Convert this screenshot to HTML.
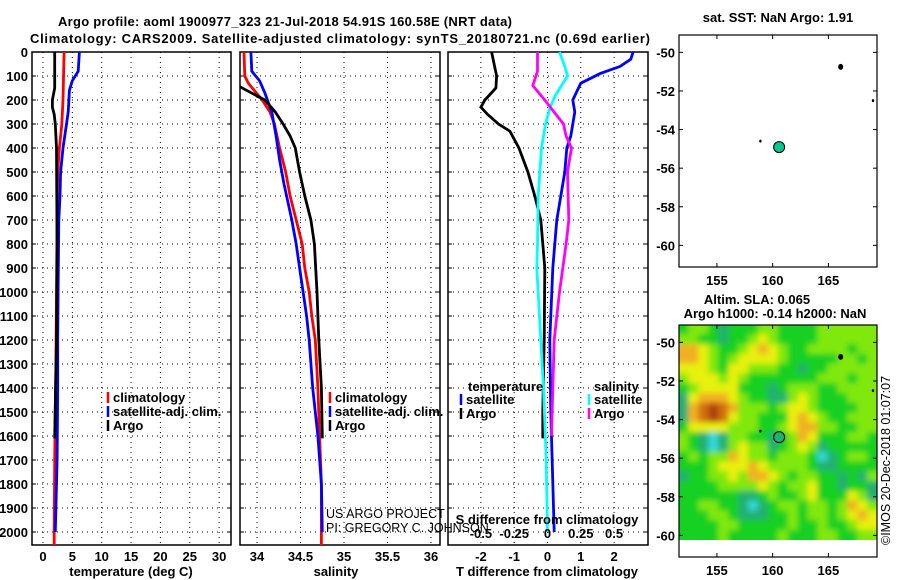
<!DOCTYPE html>
<html><head><meta charset="utf-8"><style>
body{margin:0;background:#fff}
svg{display:block}
text{font-family:"Liberation Sans",sans-serif}
.b{font-weight:bold;font-size:13px}
</style></head><body>
<svg id="s" width="900" height="580" viewBox="0 0 900 580" xmlns="http://www.w3.org/2000/svg">
<defs>
<filter id="blur" x="-10%" y="-10%" width="120%" height="120%"><feGaussianBlur stdDeviation="2.8"/></filter>
<clipPath id="mapclip"><rect x="679" y="325" width="198" height="215"/></clipPath>
</defs>
<text class="b" x="285" y="26" text-anchor="middle" font-size="14" textLength="454">Argo profile: aoml 1900977_323 21-Jul-2018 54.91S 160.58E (NRT data)</text>
<text class="b" x="340" y="43" text-anchor="middle" font-size="14" textLength="620">Climatology: CARS2009. Satellite-adjusted climatology: synTS_20180721.nc (0.69d earlier)</text>
<g id="g"></g>
</svg>
<script>
// ---- data ----
const depthTicks=[0,100,200,300,400,500,600,700,800,900,1000,1100,1200,1300,1400,1500,1600,1700,1800,1900,2000];
const tTicks=[0,5,10,15,20,25,30];
const sTicks=[34,34.5,35,35.5,36];
const dTTicks=[-2,-1,0,1,2];
const dSTicks=[-0.5,-0.25,0,0.25,0.5];
const dSLabels=["-0.5","-0.25","0","0.25","0.5"];
// temperature panel
const tArgoDepth=[0,150,200,230,260,300,400,800,1200,1610];
const tArgo=[2.0,2.0,1.6,1.6,1.9,2.1,2.3,2.4,2.3,2.0];
const tClimDepth=[0,200,300,400,500,700,1000,1300,1700,2000,2054];
const tClim=[3.6,3.4,3.2,2.8,2.5,2.4,2.3,2.2,2.0,1.9,1.9];
const tSatDepth=[0,80,120,160,250,300,400,500,600,700,900,1200,1400,1700,2000];
const tSat=[6.2,6.0,5.0,4.5,4.3,4.0,3.4,3.0,2.9,2.7,2.6,2.5,2.5,2.4,2.1];
// salinity panel
const sArgoDepth=[145,200,250,300,350,400,500,600,700,800,1000,1200,1400,1610];
const sArgo=[33.78,34.09,34.21,34.30,34.38,34.44,34.49,34.55,34.62,34.66,34.69,34.71,34.74,34.75];
const sClimDepth=[0,100,130,200,250,300,400,500,600,700,800,900,1000,1100,1200,1400,1600,1800,2054];
const sClim=[33.85,33.86,33.90,34.06,34.15,34.20,34.26,34.33,34.38,34.45,34.52,34.55,34.60,34.63,34.67,34.70,34.72,34.74,34.74];
const sSatDepth=[0,80,120,170,250,350,450,550,700,800,900,1000,1100,1200,1400,1600,1800,2000];
const sSat=[33.93,33.94,34.03,34.09,34.17,34.22,34.26,34.31,34.40,34.45,34.49,34.53,34.57,34.60,34.64,34.70,34.74,34.75];
// difference panel
const dTArgoDepth=[0,100,150,200,230,260,300,330,400,500,600,700,900,1200,1500,1610];
const dTArgo=[-1.68,-1.53,-1.55,-1.88,-2.0,-1.8,-1.47,-1.13,-0.86,-0.59,-0.38,-0.2,-0.08,-0.1,-0.14,-0.14];
const dTSatDepth=[0,30,60,90,130,200,250,350,400,500,600,700,900,1200,1500,2000];
const dTSat=[2.57,2.5,2.18,1.58,1.0,0.76,0.82,0.7,0.58,0.52,0.4,0.28,0.16,0.07,0.1,0.2];
const dSSatDepth=[0,60,100,180,230,300,400,600,800,900,1100,1400,1700,2000];
const dSSat=[0.09,0.13,0.15,0.06,0.02,-0.015,-0.045,-0.07,-0.075,-0.08,-0.06,-0.03,-0.01,0.0];
const dSArgoDepth=[0,80,140,200,240,300,350,400,500,700,800,1000,1200,1400,1600];
const dSArgo=[-0.075,-0.075,-0.11,-0.02,0.035,0.12,0.14,0.18,0.15,0.16,0.14,0.09,0.05,0.04,0.03];
// maps
const lonTicks=[155,160,165];
const latTicks=[-50,-52,-54,-56,-58,-60];
const argoLon=160.58, argoLat=-54.91;
const islandLon=[166.1,169.0,158.9];
const islandLat=[-50.75,-52.5,-54.6];
const slaRows=[
"23321222332222333333","33221223432222333333","55432234543223333233","55432344443222223323",
"44432443332212233333","34443432222222333233","23444422212333223333","14555432211343222333",
"15676533323443222233","15676433222454322333","24444333223455332233","32101332212354222332",
"32101343312343122222","23233543323332012332","22234445433332112222","12233435543233221213",
"22223333432334221221","22222211232234222431","22332210123323323543","22233211122323323454",
"22223322222322322344","22223222223222332233"];
const slaColors=["#30d8d8","#20b070","#18d020","#80e810","#e8f010","#f0b020","#d07010","#b04010"];

const NS="http://www.w3.org/2000/svg";
const G=document.getElementById('g');
function el(tag,attrs,parent){const e=document.createElementNS(NS,tag);for(const k in attrs)e.setAttribute(k,attrs[k]);(parent||G).appendChild(e);return e;}
function txt(x,y,s,attrs,parent){const e=el('text',Object.assign({x:x,y:y},attrs||{}),parent);e.textContent=s;return e;}

const yD=d=>52+d*0.24;
const PY0=52,PY1=545;
const xT=v=>43+v*5.87;
const xS=v=>257+(v-34)*87;
const xdT=v=>547.5+v*33.3;
const xdS=v=>547.5+v*133.2;

function panel(x0,x1,name,gridX){
  const g=el('g',{});
  
  
  depthTicks.forEach(d=>{const l=el('line',{x1:x0,x2:x1,y1:yD(d),y2:yD(d),stroke:'#000','stroke-width':1,'stroke-dasharray':'1,4'},g);
    });
  gridX.forEach(x=>{const l=el('line',{x1:x,x2:x,y1:PY0,y2:PY1,stroke:'#000','stroke-width':1,'stroke-dasharray':'1,4'},g);
    });
  const r=el('rect',{x:x0,y:PY0,width:x1-x0,height:PY1-PY0,fill:'none',stroke:'#000','stroke-width':1.5},g);
  
  depthTicks.forEach(d=>{el('line',{x1:x0,x2:x0+4,y1:yD(d),y2:yD(d),stroke:'#000'},g);el('line',{x1:x1-4,x2:x1,y1:yD(d),y2:yD(d),stroke:'#000'},g);});
  return g;
}
function line(xs,ds,xf,color,name,clipx0){
  const pts=ds.map((d,i)=>Math.max(clipx0||0,xf(xs[i])).toFixed(1)+','+yD(d).toFixed(1)).join(' ');
  const p=el('polyline',{points:pts,fill:'none',stroke:color,'stroke-width':2.8,'stroke-linejoin':'miter'});
  
  
}
function legend(x,y,color,label,name){
  const g=el('g',{});
  
  
  el('line',{x1:x,x2:x,y1:y-10,y2:y+1,stroke:color,'stroke-width':2.5},g);
  txt(x+5,y,label,{class:'b','font-size':'12'},g);
}

// Panel 1 temperature
panel(32,231,'temperature-panel',tTicks.map(xT));
depthTicks.forEach(d=>{const t=txt(28,yD(d)+5,String(d),{class:'b','text-anchor':'end','font-size':'12'});});
tTicks.forEach(v=>{const t=txt(xT(v),561,String(v),{class:'b','text-anchor':'middle','font-size':'12'});});
txt(131,576,'temperature (deg C)',{class:'b','text-anchor':'middle','font-size':'12'});
line(tClim,tClimDepth,xT,'#f00','temperature-climatology-line');
line(tSat,tSatDepth,xT,'#00f','temperature-satellite-line');
line(tArgo,tArgoDepth,xT,'#000','temperature-argo-line');
legend(108,402,'#f00','climatology','legend-climatology-t');
legend(108,416,'#00f','satellite-adj. clim.','legend-satellite-t');
legend(108,430,'#000','Argo','legend-argo-t');

// Panel 2 salinity
panel(240,440,'salinity-panel',sTicks.map(xS));
sTicks.forEach(v=>{const t=txt(xS(v),561,String(v),{class:'b','text-anchor':'middle','font-size':'12'});});
txt(336,576,'salinity',{class:'b','text-anchor':'middle','font-size':'12'});
line(sClim,sClimDepth,xS,'#f00','salinity-climatology-line');
line(sSat,sSatDepth,xS,'#00f','salinity-satellite-line');
line(sArgo,sArgoDepth,xS,'#000','salinity-argo-line',240);
legend(330,402,'#f00','climatology','legend-climatology-s');
legend(330,416,'#00f','satellite-adj. clim.','legend-satellite-s');
legend(330,430,'#000','Argo','legend-argo-s');
txt(326,518,'US ARGO PROJECT',{'font-size':'12.5'});
txt(326,532,'PI: GREGORY C. JOHNSON',{'font-size':'12.5'});

// Panel 3 differences
panel(448,648,'difference-panel',dTTicks.map(xdT));
dTTicks.forEach(v=>{const t=txt(xdT(v),561,String(v),{class:'b','text-anchor':'middle','font-size':'12'});});
txt(547,576,'T difference from climatology',{class:'b','text-anchor':'middle','font-size':'12'});
line(dTSat,dTSatDepth,xdT,'#00f','t-diff-satellite-line');
line(dTArgo,dTArgoDepth,xdT,'#000','t-diff-argo-line');
line(dSSat,dSSatDepth,xdS,'#00ffff','s-diff-satellite-line');
line(dSArgo,dSArgoDepth,xdS,'#ff00ff','s-diff-argo-line');
txt(468,391,'temperature',{class:'b','font-size':'12'});
legend(461,404,'#00f','satellite','legend-satellite-dt');
legend(461,418,'#000','Argo','legend-argo-dt');
txt(594,391,'salinity',{class:'b','font-size':'12'});
legend(589,404,'#00ffff','satellite','legend-satellite-ds');
legend(589,418,'#ff00ff','Argo','legend-argo-ds');
txt(547,524,'S difference from climatology',{class:'b','text-anchor':'middle','font-size':'12'});
dSTicks.forEach((v,i)=>{const t=txt(xdS(v),538,dSLabels[i],{class:'b','text-anchor':'middle','font-size':'12'});});

// Maps
const xL=lon=>679+(lon-151.6)*11.15;
function map(y0,name){
  const yL=lat=>y0+(-49.1-lat)*19.3;
  const g=el('g',{});
  
  
  return {g,yL};
}
const m1=map(35,'sst-map');
const yL1=m1.yL;
txt(778,22,'sat. SST: NaN Argo: 1.91',{class:'b','text-anchor':'middle','font-size':'12'});
const m2=map(325,'sla-map');
const yL2=m2.yL;
txt(757,304,'Altim. SLA: 0.065',{class:'b','text-anchor':'middle','font-size':'12'});
txt(775,318,'Argo h1000: -0.14 h2000: NaN',{class:'b','text-anchor':'middle','font-size':'12'});
// heatmap
const hg=el('g',{'clip-path':'url(#mapclip)'},m2.g);
const hb=el('g',{filter:'url(#blur)'},hg);
const nR=slaRows.length, nC=slaRows[0].length;
const lon0=151.6, lonStep=(169.4-151.6)/nC, latStep=11.15/nR;
slaRows.forEach((row,r)=>{[...row].forEach((c,ci)=>{
  const lonA=lon0+ci*lonStep, latA=-49.1-r*latStep;
  let x=xL(lonA), y=yL2(latA), x2=xL(lonA+lonStep), y2=yL2(latA-latStep);
  if(ci===0)x-=10; if(ci===nC-1)x2+=10; if(r===0)y-=10; if(r===nR-1)y2+=10;
  const rc=el('rect',{x:x-0.5,y:y-0.5,width:x2-x+1,height:y2-y+1,fill:slaColors[+c]},hb);
  
  
});});
[[m1,yL1,35],[m2,yL2,325]].forEach(([m,yL,y0],k)=>{
  const f=el('rect',{x:679,y:y0,width:198,height:232,fill:'none',stroke:'#000','stroke-width':1.2},m.g);
  
  lonTicks.forEach(v=>{el('line',{x1:xL(v),x2:xL(v),y1:y0,y2:y0+4,stroke:'#000'},m.g);el('line',{x1:xL(v),x2:xL(v),y1:y0+232,y2:y0+228,stroke:'#000'},m.g);
    const t=txt(xL(v),y0+250,String(v),{class:'b','text-anchor':'middle','font-size':'12'},m.g);});
  latTicks.forEach(v=>{el('line',{x1:679,x2:683,y1:yL(v),y2:yL(v),stroke:'#000'},m.g);el('line',{x1:873,x2:877,y1:yL(v),y2:yL(v),stroke:'#000'},m.g);
    const t=txt(675,yL(v)+5,String(v),{class:'b','text-anchor':'end','font-size':'12'},m.g);});
  islandLon.forEach((lo,i)=>{const c=el('ellipse',{cx:xL(lo),cy:yL(islandLat[i]),rx:i==0?2.5:1.2,ry:i==0?3:1.5,fill:'#000'},m.g);});
  const a=el('circle',{cx:xL(argoLon),cy:yL(argoLat),r:5.5,fill:k==0?'#00c890':'#20b070',stroke:'#000','stroke-width':1},m.g);
  
});
const c=txt(0,0,'©IMOS 20-Dec-2018 01:07:07',{'font-size':'12.5',transform:'translate(890,545) rotate(-90)'});


</script>
</body></html>
